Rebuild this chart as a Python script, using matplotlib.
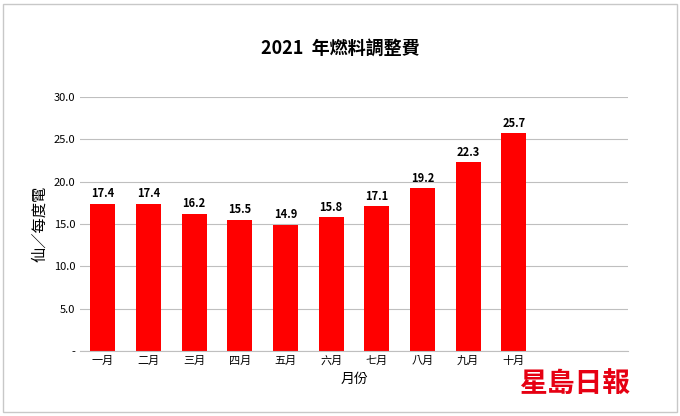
import matplotlib
matplotlib.use("Agg")
import matplotlib.pyplot as plt

plt.rcParams["font.family"] = ["Noto Sans CJK TC", "DejaVu Sans"]

months = ["一月", "二月", "三月", "四月", "五月", "六月", "七月", "八月", "九月", "十月", "", ""]
fees = [17.4, 17.4, 16.2, 15.5, 14.9, 15.8, 17.1, 19.2, 22.3, 25.7]
yticks = [0, 5, 10, 15, 20, 25, 30]
ytick_labels = ["-", "5.0", "10.0", "15.0", "20.0", "25.0", "30.0"]

fig = plt.figure(figsize=(6.8, 4.16), dpi=100)
ax = fig.add_axes([80 / 680, 1 - 351 / 416, 548 / 680, 254 / 416])

x = list(range(len(months)))
bars = ax.bar(x[:len(fees)], fees, width=0.55, color="#ff0000")
for b, v in zip(bars, fees):
    ax.text(b.get_x() + b.get_width() / 2, v + 0.4, f"{v:.1f}", ha="center", va="bottom",
            fontsize=8, fontweight="bold")

ax.set_xlim(-0.5, len(months) - 0.5)
ax.set_ylim(0, 30)
ax.set_xticks(x)
ax.set_xticklabels(months, fontsize=8)
ax.set_yticks(yticks)
ax.set_yticklabels(ytick_labels, fontsize=8)
ax.tick_params(length=0)
ax.yaxis.grid(True, color="#bfbfbf", linewidth=0.8)
ax.set_axisbelow(True)
for s in ["top", "right", "left"]:
    ax.spines[s].set_visible(False)
ax.spines["bottom"].set_color("#bfbfbf")

ax.set_ylabel("仙／每度電", fontsize=11)
ax.set_xlabel("月份", fontsize=10)
fig.text(0.5, 1 - 48 / 416, "2021  年燃料調整費", ha="center", va="center",
         fontsize=13, fontweight="bold")

fig.patches.append(plt.Rectangle((0.005, 0.01), 0.99, 0.98, transform=fig.transFigure,
                                 fill=False, edgecolor="#c8c8c8", linewidth=1))
fig.text(575 / 680, 1 - 385 / 416, "星島日報", ha="center", va="center",
         fontsize=20, fontweight="bold", color="#e60012")

fig.savefig("out.png", dpi=100)
